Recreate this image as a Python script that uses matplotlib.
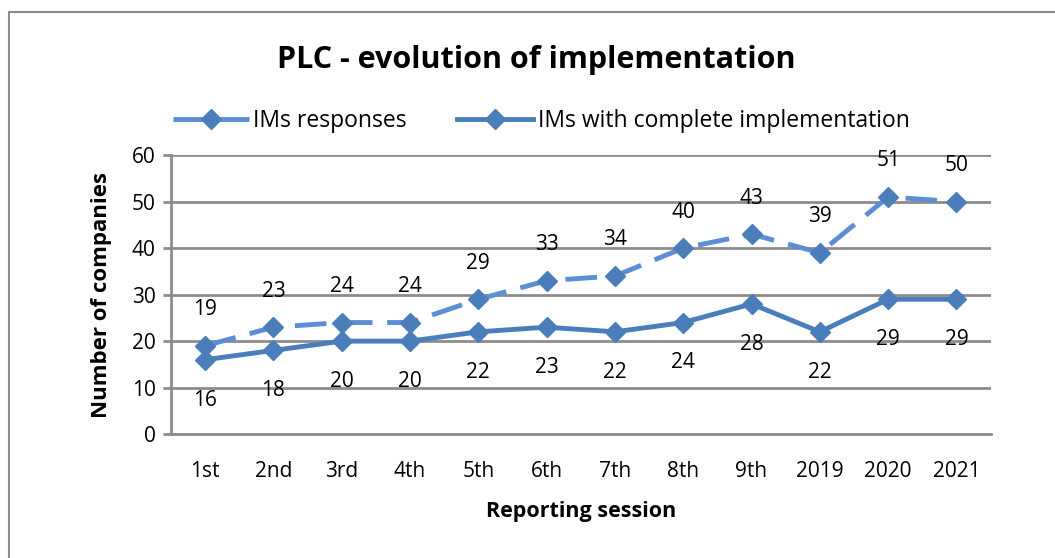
import matplotlib.pyplot as plt
from matplotlib.patches import Rectangle


sessions = ["1st", "2nd", "3rd", "4th", "5th", "6th", "7th", "8th", "9th", "2019", "2020", "2021"]
responses = [19, 23, 24, 24, 29, 33, 34, 40, 43, 39, 51, 50]
complete = [16, 18, 20, 20, 22, 23, 22, 24, 28, 22, 29, 29]

plt.rcParams["font.family"] = ["Open Sans", "DejaVu Sans"]

fig = plt.figure(figsize=(10.55, 5.58), dpi=100)
ax = fig.add_axes([0.162, 0.222, 0.777, 0.5])

x = list(range(len(sessions)))

ax.plot(
    x,
    responses,
    color="#5B8ED6",
    lw=3.5,
    ls=(0, (6.5, 3)),
    marker="D",
    ms=10,
    mfc="#4A7EBB",
    mec="#4A7EBB",
    label="IMs responses",
    zorder=3
)

ax.plot(
    x,
    complete,
    color="#4A7EBB",
    lw=3.5,
    marker="D",
    ms=10,
    label="IMs with complete implementation",
    zorder=3
)

for i in x:
    ax.annotate(
        str(responses[i]),
        (i, responses[i]),
        xytext=(0, 26),
        textcoords="offset points",
        ha="center",
        va="center",
        fontsize=15
    )
    ax.annotate(
        str(complete[i]),
        (i, complete[i]),
        xytext=(0, -29),
        textcoords="offset points",
        ha="center",
        va="center",
        fontsize=15
    )

ax.set_xlim(-0.5, len(sessions) - 0.5)
ax.set_ylim(0, 60)
ax.set_yticks(range(0, 61, 10))
ax.set_xticks(x)
ax.set_xticklabels(sessions)

ax.grid(axis="y", color="#8C8C8C", lw=2)
ax.set_axisbelow(True)

for s in ["top", "right"]:
    ax.spines[s].set_visible(False)
ax.spines["left"].set_color("#8C8C8C")
ax.spines["left"].set_linewidth(2)
ax.spines["bottom"].set_color("#8C8C8C")
ax.spines["bottom"].set_linewidth(2)

ax.tick_params(axis="y", length=6, width=2, color="#8C8C8C", labelsize=15, pad=5)
ax.tick_params(axis="x", length=0, labelsize=15, pad=19)

ax.set_ylabel("Number of companies", fontsize=16, fontweight="bold", labelpad=14)
ax.set_xlabel("Reporting session", fontsize=15.5, fontweight="bold", labelpad=14)

fig.suptitle("PLC - evolution of implementation", fontsize=22, fontweight="bold", x=0.508, y=0.92)

fig.legend(
    loc="center",
    bbox_to_anchor=(0.513, 0.783),
    ncol=2,
    frameon=False,
    fontsize=16.5,
    handlelength=3.3,
    columnspacing=2.2,
    handletextpad=0.2
)

fig.patches.append(
    Rectangle(
        (9 / 1055, -0.1),
        1.2,
        1.1 - 12 / 558,
        transform=fig.transFigure,
        fill=False,
        ec="#8C8C8C",
        lw=1.5
    )
)

fig.savefig("out.png", dpi=100)
